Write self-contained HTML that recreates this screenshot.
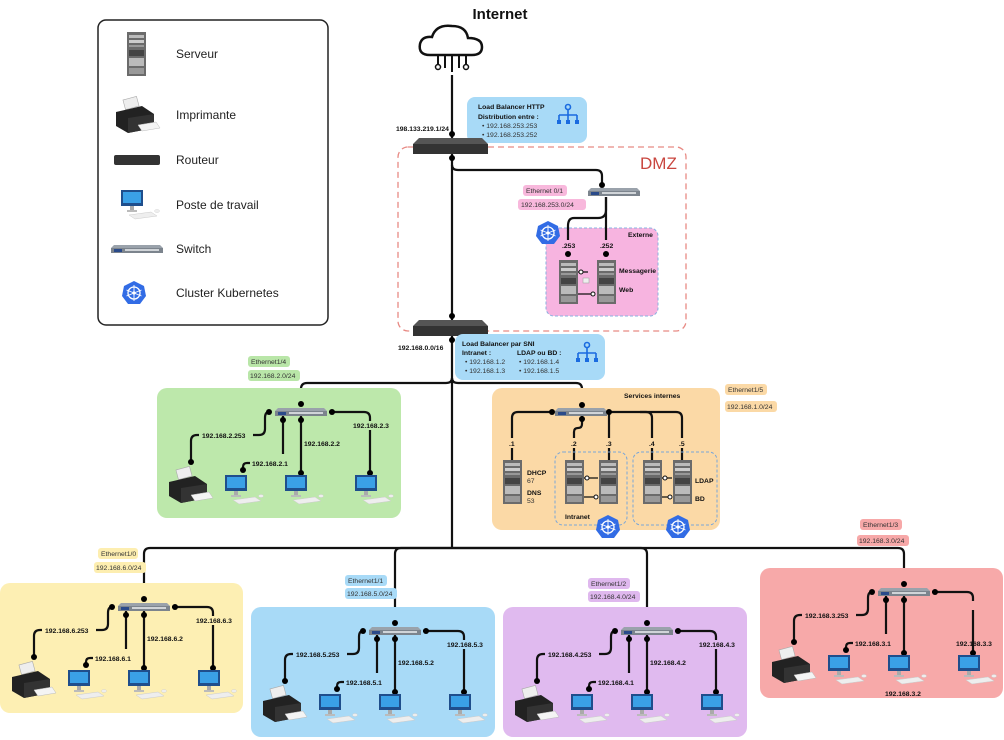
<!DOCTYPE html>
<html><head><meta charset="utf-8"><style>
html,body{margin:0;padding:0;background:#fff;}
svg{display:block;font-family:"Liberation Sans",sans-serif;}
.b{font-weight:bold;font-size:6.8px;fill:#111}
.t{font-size:6.8px;fill:#333}
.w{fill:none;stroke:#111;stroke-width:2.2}
</style></head><body>
<svg width="1004" height="740" viewBox="0 0 1004 740" xmlns="http://www.w3.org/2000/svg">
<defs>
<g id="srv"><rect x="0" y="0" width="19" height="44" fill="#6b6b6b"/><rect x="2" y="3" width="15" height="3" fill="#bbb"/><rect x="2" y="8" width="15" height="3" fill="#ccc"/><rect x="2" y="13" width="15" height="2" fill="#999"/><rect x="2" y="18" width="15" height="6" fill="#444"/><rect x="2" y="26" width="15" height="8" fill="#bbb"/><rect x="2" y="36" width="15" height="6" fill="#999"/></g>
<g id="prn"><rect x="8" y="0" width="14" height="10" fill="#eee" stroke="#aaa" stroke-width=".6" transform="rotate(-15 15 5)"/><path d="M0 14 L26 8 L38 16 L38 30 L12 35 L0 28Z" fill="#222"/><path d="M12 20 L38 16 L38 30 L12 35Z" fill="#333"/><path d="M22 27 L40 24 L44 30 L26 33Z" fill="#f4f4f4" stroke="#bbb" stroke-width=".5"/></g>
<g id="pc"><rect x="0" y="0" width="22" height="16" fill="#1f4e8c"/><rect x="2" y="2" width="18" height="11" fill="#3aa0e6"/><rect x="9" y="16" width="4" height="4" fill="#aaa"/><rect x="6" y="20" width="10" height="2" fill="#bbb"/><path d="M8 25 L30 22 L36 26 L14 29Z" fill="#eee" stroke="#ccc" stroke-width=".5"/><ellipse cx="36" cy="21" rx="2.5" ry="1.5" fill="#eee" stroke="#ccc" stroke-width=".4"/></g>
<g id="sw"><path d="M3 0 H49 L52 3 V8 H0 V3Z" fill="#9aa2ab"/><rect x="0" y="3" width="52" height="5" fill="#7c848d"/><rect x="3" y="4" width="8" height="3" fill="#2a4a8a"/><rect x="14" y="4" width="34" height="2" fill="#d0d4d8"/></g>
<g id="rt"><path d="M6 0 H69 L75 6 V16 H0 V6Z" fill="#555"/><rect x="0" y="6" width="75" height="10" fill="#333"/></g>
<g id="k8"><path d="M12 0 L22 5 L24 15 L18 23 L6 23 L0 15 L2 5Z" fill="#326ce5"/><circle cx="12" cy="12" r="6" fill="none" stroke="#fff" stroke-width="1.3"/><circle cx="12" cy="12" r="1.6" fill="#fff"/><path d="M12 4V20M4.5 9L19.5 15M4.5 15L19.5 9" stroke="#fff" stroke-width=".9"/></g>
<g id="lbi"><circle cx="12" cy="3" r="2.5" fill="none" stroke="#1a6be0" stroke-width="1.6"/><path d="M12 6V11M3 11H21M3 11V16M12 11V16M21 11V16" stroke="#1a6be0" stroke-width="1.6" fill="none"/><rect x="1" y="16" width="4" height="4" fill="#1a6be0"/><rect x="10" y="16" width="4" height="4" fill="#1a6be0"/><rect x="19" y="16" width="4" height="4" fill="#1a6be0"/></g>
<g id="lan">
<path class="w" d="M112 24 Q108 24 108 30 V41 Q108 47 102 47 H96 M42 47 H40 Q34 47 34 53 V74"/>
<path class="w" d="M126 28 V66"/>
<path class="w" d="M86 82 V79 Q86 75 90 75 H93"/>
<path class="w" d="M144 28 V85"/>
<path class="w" d="M172 24 H207 Q213 24 213 30 V33 M213 42 V85"/>
<circle cx="112" cy="24" r="3"/><circle cx="34" cy="74" r="3"/><circle cx="126" cy="32" r="3"/><circle cx="86" cy="82" r="3"/><circle cx="144" cy="32" r="3"/><circle cx="144" cy="85" r="3"/><circle cx="175" cy="24" r="3"/><circle cx="213" cy="85" r="3"/><circle cx="144" cy="16" r="3"/>
<use href="#sw" x="118" y="20"/>
<use href="#prn" x="12" y="80"/><use href="#pc" x="68" y="87"/><use href="#pc" x="128" y="87"/><use href="#pc" x="198" y="87"/>
</g>
</defs>

<!-- legend -->
<rect x="98" y="20" width="230" height="305" rx="8" fill="#fff" stroke="#222" stroke-width="1.5"/>
<use href="#srv" x="127" y="32"/><text x="176" y="58" font-size="12" fill="#222">Serveur</text>
<use href="#prn" x="116" y="98"/><text x="176" y="119" font-size="12" fill="#222">Imprimante</text>
<rect x="114" y="155" width="46" height="10" rx="2" fill="#333"/><text x="176" y="164" font-size="12" fill="#222">Routeur</text>
<use href="#pc" x="121" y="190"/><text x="176" y="209" font-size="12" fill="#222">Poste de travail</text>
<use href="#sw" x="111" y="245"/><text x="176" y="253" font-size="12" fill="#222">Switch</text>
<use href="#k8" x="122" y="281"/><text x="176" y="297" font-size="12" fill="#222">Cluster Kubernetes</text>

<!-- internet -->
<text x="500" y="19" font-size="15" font-weight="bold" text-anchor="middle" fill="#111">Internet</text>
<path d="M430 55 Q418 55 420 44 Q422 36 432 37 Q436 24 452 26 Q466 26 468 38 Q482 38 482 47 Q482 55 472 55Z" fill="none" stroke="#111" stroke-width="2.5"/>
<path d="M438 55V64M452 55V72M466 55V64M445 55V68M459 55V68" stroke="#111" stroke-width="2"/>
<circle cx="438" cy="67" r="2.5" fill="none" stroke="#111" stroke-width="1.5"/><circle cx="466" cy="67" r="2.5" fill="none" stroke="#111" stroke-width="1.5"/>

<!-- main trunk -->
<path class="w" d="M452 75 V548"/>
<path class="w" d="M150 548 H898"/>

<!-- LB HTTP -->
<rect x="467" y="97" width="120" height="46" rx="8" fill="#a8daf7"/>
<text x="478" y="109" class="b" font-size="7">Load Balancer HTTP</text>
<text x="478" y="119" class="b">Distribution entre :</text>
<text x="482" y="128" class="t">•  192.168.253.253</text>
<text x="482" y="137" class="t">•  192.168.253.252</text>
<use href="#lbi" x="556" y="104"/>
<text x="396" y="131" class="b">198.133.219.1/24</text>

<!-- DMZ -->
<rect x="398" y="147" width="288" height="184" rx="10" fill="none" stroke="#e88a84" stroke-width="1.3" stroke-dasharray="6 4"/>
<text x="640" y="169" font-size="17" fill="#c9463f">DMZ</text>
<use href="#rt" x="413" y="138"/>
<circle cx="452" cy="134" r="3"/><circle cx="452" cy="158" r="3"/>
<path class="w" d="M452 165 Q452 170 458 170 H596 Q602 170 602 176 V184"/>
<circle cx="602" cy="185" r="3"/>
<use href="#sw" x="588" y="188"/>
<rect x="523" y="185" width="44" height="11" rx="3" fill="#f8b8dc"/><text x="526" y="193" class="t">Ethernet 0/1</text>
<rect x="518" y="199" width="68" height="11" rx="3" fill="#f8b8dc"/><text x="521" y="207" class="t">192.168.253.0/24</text>
<rect x="546" y="228" width="112" height="88" rx="8" fill="#f7b4e0" stroke="#8ab0e0" stroke-dasharray="3 2"/>
<path class="w" d="M606 197 V210 Q606 218 598 218 H574 Q568 218 568 226 V240"/>
<path class="w" d="M606 197 V240"/>
<text x="628" y="237" class="b">Externe</text>
<text x="562" y="248" class="b">.253</text><text x="600" y="248" class="b">.252</text>
<circle cx="568" cy="254" r="3"/><circle cx="606" cy="254" r="3"/>
<use href="#srv" x="559" y="260"/><use href="#srv" x="597" y="260"/>
<path d="M578 272 H588M578 294 H593" stroke="#111" stroke-width="1.2"/>
<circle cx="581" cy="272" r="2" fill="#fff" stroke="#111"/><circle cx="593" cy="294" r="2" fill="#fff" stroke="#111"/>
<rect x="583" y="278" width="6" height="5" fill="#eee" stroke="#999" stroke-width=".5"/>
<text x="619" y="273" class="b">Messagerie</text><text x="619" y="292" class="b">Web</text>
<use href="#k8" x="536" y="221"/>

<!-- router 2 -->
<use href="#rt" x="413" y="320"/>
<circle cx="452" cy="316" r="3"/><circle cx="452" cy="340" r="3"/>
<text x="398" y="350" class="b">192.168.0.0/16</text>
<rect x="455" y="334" width="150" height="46" rx="8" fill="#a8daf7"/>
<text x="462" y="346" class="b" font-size="7">Load Balancer par SNI</text>
<text x="462" y="355" class="b">Intranet :</text><text x="517" y="355" class="b">LDAP ou BD :</text>
<text x="465" y="364" class="t">•  192.168.1.2</text><text x="519" y="364" class="t">•  192.168.1.4</text>
<text x="465" y="373" class="t">•  192.168.1.3</text><text x="519" y="373" class="t">•  192.168.1.5</text>
<use href="#lbi" x="575" y="342"/>

<!-- branches from trunk -->
<path class="w" d="M452 378 Q452 383 446 383 H307 Q301 383 301 389 V404"/>
<path class="w" d="M452 378 Q452 383 458 383 H576 Q582 383 582 389 V404"/>

<!-- green -->
<rect x="248" y="356" width="42" height="11" rx="3" fill="#b9e6a8"/><text x="251" y="364" class="t">Ethernet1/4</text>
<rect x="248" y="370" width="52" height="11" rx="3" fill="#b9e6a8"/><text x="250" y="378" class="t">192.168.2.0/24</text>
<g transform="translate(157 388)"><rect x="0" y="0" width="244" height="130" rx="10" fill="#bde8ab"/><use href="#lan"/>
<text x="45" y="50" class="b">192.168.2.253</text><text x="95" y="78" class="b">192.168.2.1</text><text x="147" y="58" class="b">192.168.2.2</text><text x="196" y="40" class="b">192.168.2.3</text></g>

<!-- orange services -->
<rect x="492" y="388" width="228" height="142" rx="10" fill="#fbd9a6"/>
<rect x="725" y="384" width="42" height="11" rx="3" fill="#fbd9a6"/><text x="728" y="392" class="t">Ethernet1/5</text>
<rect x="725" y="401" width="52" height="11" rx="3" fill="#fbd9a6"/><text x="727" y="409" class="t">192.168.1.0/24</text>
<text x="624" y="398" class="b">Services internes</text>
<use href="#sw" x="555" y="408"/>
<circle cx="582" cy="405" r="3"/>
<path class="w" d="M553 412 H518 Q512 412 512 418 V438 M512 448 V472"/>
<path class="w" d="M582 416 V424 Q582 428 578 428 Q574 428 574 432 V438 M574 448 V472"/>
<path class="w" d="M609 412 V438 M609 448 V472"/>
<path class="w" d="M609 412 H646 Q652 412 652 418 V438 M652 448 V472"/>
<path class="w" d="M640 412 H676 Q682 412 682 418 V438 M682 448 V472"/>
<circle cx="552" cy="412" r="3"/><circle cx="582" cy="419" r="3"/><circle cx="609" cy="412" r="3"/>
<text x="509" y="446" class="b">.1</text><text x="571" y="446" class="b">.2</text><text x="606" y="446" class="b">.3</text><text x="649" y="446" class="b">.4</text><text x="679" y="446" class="b">.5</text>
<circle cx="512" cy="472" r="3"/><circle cx="574" cy="472" r="3"/><circle cx="609" cy="472" r="3"/><circle cx="652" cy="472" r="3"/><circle cx="682" cy="472" r="3"/>
<rect x="555" y="452" width="72" height="73" rx="8" fill="none" stroke="#7aa6d8" stroke-dasharray="3 2"/>
<rect x="633" y="452" width="84" height="73" rx="8" fill="none" stroke="#7aa6d8" stroke-dasharray="3 2"/>
<use href="#srv" x="503" y="460"/><use href="#srv" x="565" y="460"/><use href="#srv" x="599" y="460"/><use href="#srv" x="643" y="460"/><use href="#srv" x="673" y="460"/>
<path d="M584 478H598M584 497H598M662 478H672M662 497H672" stroke="#111" stroke-width="1.2"/>
<circle cx="587" cy="478" r="2" fill="#fff" stroke="#111"/><circle cx="596" cy="497" r="2" fill="#fff" stroke="#111"/><circle cx="665" cy="478" r="2" fill="#fff" stroke="#111"/><circle cx="670" cy="497" r="2" fill="#fff" stroke="#111"/>
<text x="527" y="475" class="b">DHCP</text><text x="527" y="483" class="t" font-size="4.5">67</text>
<text x="527" y="495" class="b">DNS</text><text x="527" y="503" class="t" font-size="4.5">53</text>
<text x="695" y="483" class="b">LDAP</text><text x="695" y="501" class="b">BD</text>
<text x="565" y="519" class="b">Intranet</text>
<use href="#k8" x="596" y="515"/><use href="#k8" x="666" y="515"/>

<!-- lower drops -->
<path class="w" d="M150 548 Q144 548 144 554 V599"/>
<path class="w" d="M452 548 H401 Q395 548 395 554 V623"/>
<path class="w" d="M452 548 H641 Q647 548 647 554 V623"/>
<path class="w" d="M898 548 Q904 548 904 554 V584"/>

<!-- yellow -->
<rect x="98" y="548" width="40" height="11" rx="3" fill="#fdeeb0"/><text x="101" y="556" class="t">Ethernet1/0</text>
<rect x="94" y="562" width="52" height="11" rx="3" fill="#fdeeb0"/><text x="96" y="570" class="t">192.168.6.0/24</text>
<g transform="translate(0 583)"><rect x="0" y="0" width="243" height="130" rx="10" fill="#fdefb3"/><use href="#lan"/>
<text x="45" y="50" class="b">192.168.6.253</text><text x="95" y="78" class="b">192.168.6.1</text><text x="147" y="58" class="b">192.168.6.2</text><text x="196" y="40" class="b">192.168.6.3</text></g>

<!-- blue -->
<rect x="345" y="575" width="42" height="11" rx="3" fill="#a8daf7"/><text x="348" y="583" class="t">Ethernet1/1</text>
<rect x="345" y="588" width="52" height="11" rx="3" fill="#a8daf7"/><text x="347" y="596" class="t">192.168.5.0/24</text>
<g transform="translate(251 607)"><rect x="0" y="0" width="244" height="130" rx="10" fill="#a8daf7"/><use href="#lan"/>
<text x="45" y="50" class="b">192.168.5.253</text><text x="95" y="78" class="b">192.168.5.1</text><text x="147" y="58" class="b">192.168.5.2</text><text x="196" y="40" class="b">192.168.5.3</text></g>

<!-- purple -->
<rect x="588" y="578" width="42" height="11" rx="3" fill="#dfb8ee"/><text x="591" y="586" class="t">Ethernet1/2</text>
<rect x="588" y="591" width="52" height="11" rx="3" fill="#dfb8ee"/><text x="590" y="599" class="t">192.168.4.0/24</text>
<g transform="translate(503 607)"><rect x="0" y="0" width="244" height="130" rx="10" fill="#e0baef"/><use href="#lan"/>
<text x="45" y="50" class="b">192.168.4.253</text><text x="95" y="78" class="b">192.168.4.1</text><text x="147" y="58" class="b">192.168.4.2</text><text x="196" y="40" class="b">192.168.4.3</text></g>

<!-- red -->
<rect x="860" y="519" width="42" height="11" rx="3" fill="#f7a8a8"/><text x="863" y="527" class="t">Ethernet1/3</text>
<rect x="857" y="535" width="52" height="11" rx="3" fill="#f7a8a8"/><text x="859" y="543" class="t">192.168.3.0/24</text>
<g transform="translate(760 568)"><rect x="0" y="0" width="243" height="130" rx="10" fill="#f7a9a9"/><use href="#lan"/>
<text x="45" y="50" class="b">192.168.3.253</text><text x="95" y="78" class="b">192.168.3.1</text><text x="125" y="128" class="b">192.168.3.2</text><text x="196" y="78" class="b">192.168.3.3</text></g>
</svg>
</body></html>
